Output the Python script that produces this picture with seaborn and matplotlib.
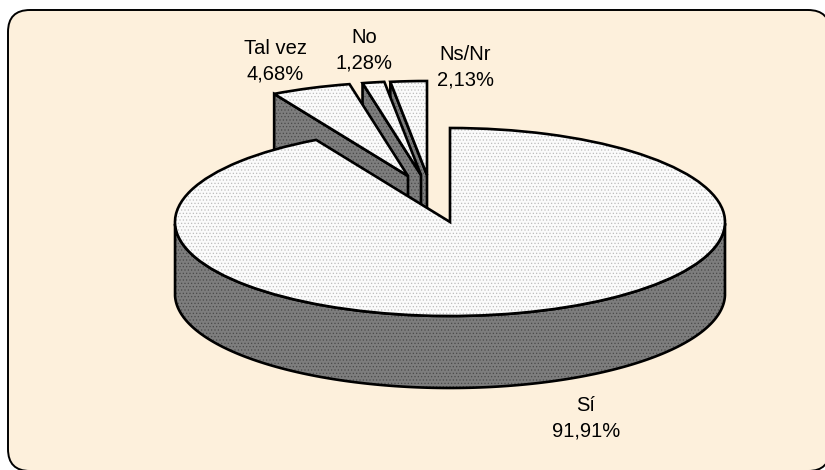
import numpy as np
import matplotlib
matplotlib.use('Agg')
import matplotlib.pyplot as plt
from matplotlib.patches import FancyBboxPatch, Polygon, Wedge
import seaborn as sns

labels = ['Sí', 'Tal vez', 'No', 'Ns/Nr']
values = [91.91, 4.68, 1.28, 2.13]

sns.set_theme(style='white')
plt.rcParams['font.family'] = ['Liberation Sans', 'DejaVu Sans']
plt.rcParams['hatch.linewidth'] = 0.5

# everything is laid out in picture pixels, y squashed for the tilted pie
W, H = 825, 470
RX, RY = 275, 94
DEPTH = 72
SQ = RY / RX
LW = 1.9


def px(x, y):
    return x, (H - y) / SQ


apex = {'Sí': (450, 222), 'Tal vez': (408, 176), 'No': (421, 175), 'Ns/Nr': (427, 175)}
order = {'Ns/Nr': 2, 'No': 5, 'Tal vez': 8, 'Sí': 11}
text_pos = {'Sí': (586, 418), 'Tal vez': (275, 61), 'No': (364, 50), 'Ns/Nr': (465, 67)}

fig = plt.figure(figsize=[8.25, 4.7], dpi=100, facecolor='white')
ax = fig.add_axes([0, 0, 1, 1])

wedges, _ = ax.pie(values, startangle=90, counterclock=False, radius=RX, center=px(450, 222),
                   wedgeprops=dict(facecolor='#fbfbfb', edgecolor='#bdbdbd', linewidth=0, hatch='.....'))
ax.set_aspect('auto')
ax.set_xlim(0, W)
ax.set_ylim(0, H / SQ)
ax.axis('off')

dark = '#7d7d7d'
drop = DEPTH / SQ


# hatch colour follows the edge colour, so outlines go on as separate patches
def side(points, z):
    ax.add_patch(Polygon(points, closed=True, facecolor=dark, edgecolor='#4a4a4a', hatch='.....',
                         linewidth=0, zorder=z))
    ax.add_patch(Polygon(points, closed=True, fill=False, edgecolor='black', linewidth=LW, zorder=z + 0.1))


for w, name in zip(wedges, labels):
    cx, cy = px(*apex[name])
    z = order[name]
    w.set_center((cx, cy))
    w.set_zorder(z + 1)
    ax.add_patch(Wedge((cx, cy), RX, w.theta1, w.theta2, fill=False, edgecolor='black',
                       linewidth=LW, zorder=z + 1.5))
    t = np.radians(np.linspace(w.theta1, w.theta2, 300))
    if name == 'Sí':
        # front wall of the big slice, lower half of the rim only
        t = t[np.sin(t) <= 0]
        rim = np.column_stack([cx + RX * np.cos(t), cy + RX * np.sin(t)])
        side(np.vstack([rim, rim[::-1] - [0, drop]]), z)
    else:
        # left cut face of the pulled out slices
        a = np.radians(w.theta2)
        c = (cx + RX * np.cos(a), cy + RX * np.sin(a))
        side([c, (cx, cy), (cx, cy - drop), (c[0], c[1] - drop)], z)

for name, val in zip(labels, values):
    x, y = px(*text_pos[name])
    ax.text(x, y, name + '\n' + ('%.2f%%' % val).replace('.', ','), ha='center', va='center',
            fontsize=14.5, color='black', linespacing=1.42, zorder=20)

ax.add_patch(FancyBboxPatch((8, (H - 471) / SQ), 822, 461 / SQ,
                            boxstyle='round,pad=0,rounding_size=22', mutation_aspect=1 / SQ,
                            facecolor='#fdf0dc', edgecolor='black', linewidth=1.4, zorder=0))

fig.savefig('out.png', dpi=100)
